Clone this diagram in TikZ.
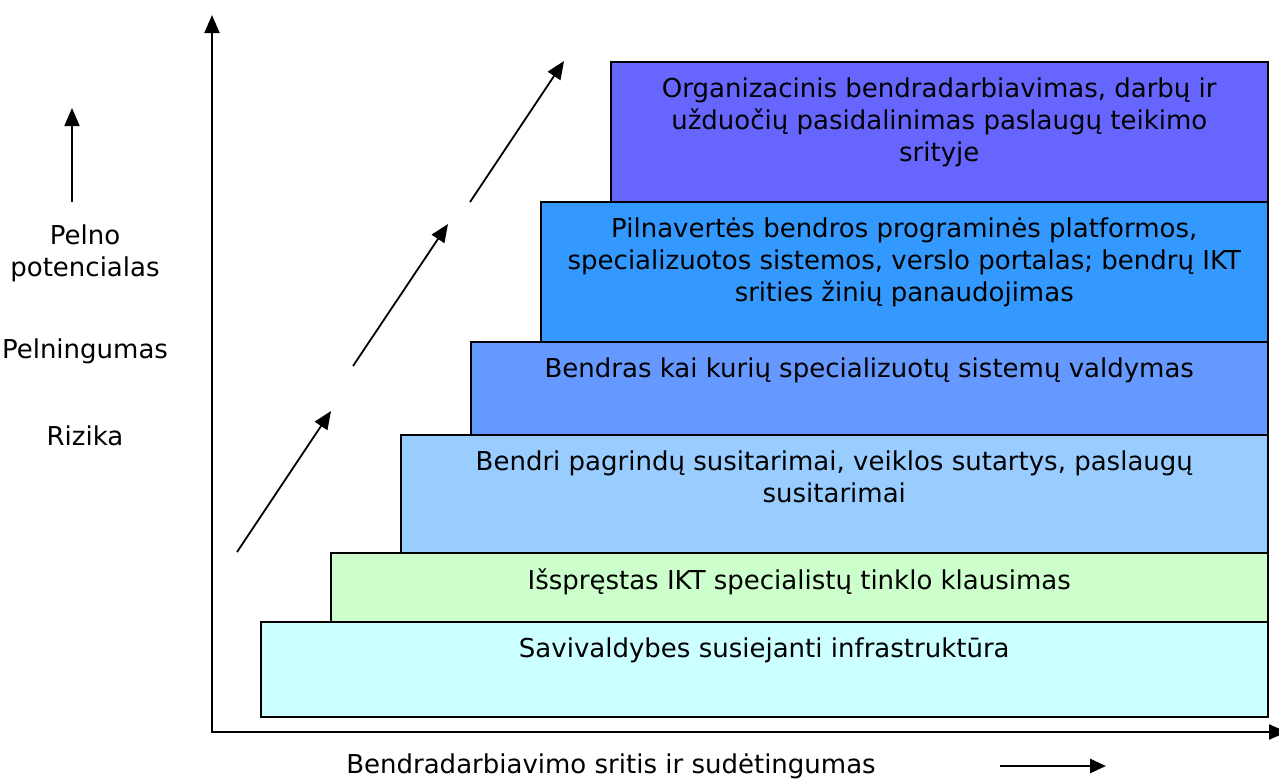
\documentclass[tikz,border=0pt]{standalone}
\usepackage{fontspec}
\setmainfont{DejaVu Sans}
\usepackage{tikz}
\usetikzlibrary{arrows.meta, positioning}
\definecolor{orgblue}{HTML}{6666FF}
\definecolor{platblue}{HTML}{3399FF}
\definecolor{sysblue}{HTML}{6699FF}
\definecolor{agreeblue}{HTML}{99CCFF}
\definecolor{netgreen}{HTML}{CCFFCC}
\definecolor{infracyan}{HTML}{CCFFFF}
\tikzstyle{level} = [rectangle, draw=black, line width=0.75pt, anchor=north west, inner sep=0pt]
\tikzstyle{leveltext} = [align=center, inner sep=0pt, font=\fontsize{13}{16}\selectfont]
\tikzstyle{sidetext} = [inner sep=0pt, font=\fontsize{13}{16}\selectfont]
\tikzstyle{axis} = [line width=1pt, -{Triangle[length=9pt, width=7.5pt]}]
\tikzstyle{arrow} = [line width=0.9pt, -{Triangle[length=9pt, width=7.5pt]}]

\begin{document}
\begin{tikzpicture}[x=0.5pt, y=-0.5pt, node distance=8pt]
    \useasboundingbox (0,0) rectangle (1279,778);

    % Levels
    \node (infra) [level, fill=infracyan, minimum width=503.5pt, minimum height=47.5pt] at (260,621) {};
    \node (net) [level, fill=netgreen, minimum width=468.5pt, minimum height=34.5pt] at (330,552) {};
    \node (agree) [level, fill=agreeblue, minimum width=433.5pt, minimum height=59pt] at (400,434) {};
    \node (sys) [level, fill=sysblue, minimum width=398.5pt, minimum height=46.5pt] at (470,341) {};
    \node (plat) [level, fill=platblue, minimum width=363.5pt, minimum height=70pt] at (540,201) {};
    \node (org) [level, fill=orgblue, minimum width=328.5pt, minimum height=70pt] at (610,61) {};

    % Level texts
    \node (infratext) [leveltext, below=of infra.north] {Savivaldybes susiejanti infrastruktūra};
    \node (nettext) [leveltext, below=of net.north] {Išspręstas IKT specialistų tinklo klausimas};
    \node (agreetext) [leveltext, below=of agree.north] {Bendri pagrindų susitarimai, veiklos sutartys, paslaugų\\susitarimai};
    \node (systext) [leveltext, below=of sys.north] {Bendras kai kurių specializuotų sistemų valdymas};
    \node (plattext) [leveltext, below=of plat.north] {Pilnavertės bendros programinės platformos,\\specializuotos sistemos, verslo portalas; bendrų IKT\\srities žinių panaudojimas};
    \node (orgtext) [leveltext, below=of org.north] {Organizacinis bendradarbiavimas, darbų ir\\užduočių pasidalinimas paslaugų teikimo\\srityje};

    % Axes
    \coordinate (origin) at (212,733);
    \coordinate (ytop) at (212,15);
    \coordinate (xstart) at (212,732);
    \coordinate (xend) at (1287,732);
    \draw [axis] (origin) -- (ytop);
    \draw [axis] (xstart) -- (xend);

    % Axis labels
    \node (xlabel) [sidetext] at (611,766) {Bendradarbiavimo sritis ir sudėtingumas};
    \coordinate (xarrs) at (1000,766);
    \coordinate (xarre) at (1106,766);
    \draw [line width=1.4pt, -{Triangle[length=8pt, width=7pt]}] (xarrs) -- (xarre);

    \coordinate (yarrs) at (72,202);
    \coordinate (yarre) at (72,108);
    \draw [arrow] (yarrs) -- (yarre);
    \node (pelno) [sidetext, align=center] at (85,253) {Pelno\\potencialas};
    \node (pelning) [sidetext] at (85,351) {Pelningumas};
    \node (rizika) [sidetext] at (85,436) {Rizika};

    % Growth arrows
    \coordinate (g1s) at (237,552);
    \coordinate (g1e) at (331,411);
    \coordinate (g2s) at (353,366);
    \coordinate (g2e) at (448,224);
    \coordinate (g3s) at (470,202);
    \coordinate (g3e) at (564,61);
    \draw [arrow] (g1s) -- (g1e);
    \draw [arrow] (g2s) -- (g2e);
    \draw [arrow] (g3s) -- (g3e);
\end{tikzpicture}
\end{document}
